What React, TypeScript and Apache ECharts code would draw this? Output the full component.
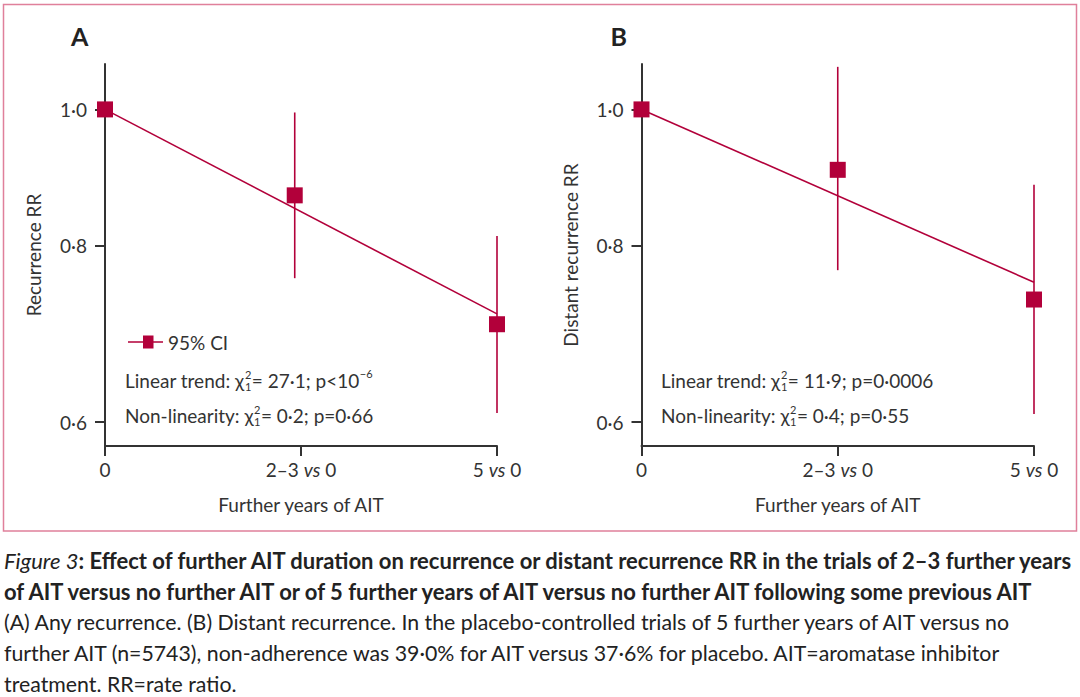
import React, { useEffect, useRef } from "react";
import * as echarts from "echarts";

const FONT = "Lato, 'Noto Sans', sans-serif";
const RED = "#b2003a";
const INK = "#333333";
const FRAME = "#e0809b";

// Axis ticks
const xTickValues = [0, 2.5, 5];
const xTickLabels = ["0", "2–3 vs 0", "5 vs 0"];
const yTickValues = [0.6, 0.8, 1.0];
const yMin = 0.577;
const yMax = 1.077;

// Panel A: any recurrence
const aX = [0, 2.42, 5];
const aRR = [1.0, 0.869, 0.704];
const aLo = [null, 0.759, 0.609];
const aHi = [null, 0.995, 0.813];
const aTrendX = [0, 5];
const aTrendRR = [1.0, 0.716];

// Panel B: distant recurrence
const bX = [0, 2.5, 5];
const bRR = [1.0, 0.906, 0.733];
const bLo = [null, 0.769, 0.608];
const bHi = [null, 1.072, 0.884];
const bTrendX = [0, 5];
const bTrendRR = [1.0, 0.754];

const captionLines = [
  "{i|Figure 3}{b|: Effect of further AIT duration on recurrence or distant recurrence RR in the trials of 2–3 further years}",
  "{b|of AIT versus no further AIT or of 5 further years of AIT versus no further AIT following some previous AIT}",
  "(A) Any recurrence. (B) Distant recurrence. In the placebo-controlled trials of 5 further years of AIT versus no",
  "further AIT (n=5743), non-adherence was 39·0% for AIT versus 37·6% for placebo. AIT=aromatase inhibitor",
  "treatment. RR=rate ratio.",
];

const FS = 19;

function measure(text: string, size: number, weight = "normal", style = "normal") {
  const ctx = document.createElement("canvas").getContext("2d")!;
  ctx.font = `${style} ${weight} ${size}px Lato`;
  return ctx.measureText(text).width;
}

function statLine(x: number, y: number, pre: string, post: string, tail?: string) {
  const small = 11;
  const w1 = measure(pre, FS);
  const ws = Math.max(measure("2", small), measure("1", small));
  const wp = measure(post, FS);
  const base = { fontFamily: "Lato", fontSize: FS, fill: INK, align: "left", verticalAlign: "middle" };
  const children: any[] = [
    { type: "text", x, y, style: { ...base, text: pre } },
    { type: "text", x: x + w1 + 0.5, y: y - 6, style: { ...base, fontSize: small, text: "2" } },
    { type: "text", x: x + w1 + 0.5, y: y + 6, style: { ...base, fontSize: small, text: "1" } },
    { type: "text", x: x + w1 + ws + 1, y, style: { ...base, text: post } },
  ];
  if (tail) {
    children.push({ type: "text", x: x + w1 + ws + 1 + wp + 0.5, y: y - 7, style: { ...base, fontSize: small, text: tail } });
  }
  return children;
}

function fmtX(v: number) {
  const i = xTickValues.findIndex((t) => Math.abs(t - v) < 1e-6);
  const s = i >= 0 ? xTickLabels[i] : "";
  return s.replace(" vs ", " {i|vs} ");
}

function xAxisOpt(gridIndex: number) {
  return {
    type: "value",
    gridIndex,
    min: 0,
    max: 5,
    name: "Further years of AIT",
    nameLocation: "middle",
    nameGap: 49,
    nameMoveOverlap: false,
    nameTextStyle: { fontFamily: FONT, fontSize: FS, color: INK },
    axisLine: { show: true, onZero: false, lineStyle: { color: INK, width: 2 } },
    axisTick: { show: true, customValues: xTickValues, length: 10, inside: false, lineStyle: { color: INK, width: 2 } },
    axisLabel: {
      customValues: xTickValues,
      margin: 14,
      fontFamily: FONT,
      fontSize: FS,
      color: INK,
      formatter: (v: number) => fmtX(v),
      rich: { i: { fontStyle: "italic", fontFamily: FONT, fontSize: FS, color: INK } },
    },
    splitLine: { show: false },
  };
}

function yAxisOpt(gridIndex: number, name: string) {
  const lv = yTickValues.map((v) => Math.log(v));
  return {
    type: "value",
    gridIndex,
    min: Math.log(yMin),
    max: Math.log(yMax),
    name,
    nameLocation: "middle",
    nameGap: 62,
    nameMoveOverlap: false,
    nameTextStyle: { fontFamily: FONT, fontSize: FS, color: INK },
    axisLine: { show: true, onZero: false, lineStyle: { color: INK, width: 2 } },
    axisTick: { show: true, customValues: lv, length: 10, inside: false, lineStyle: { color: INK, width: 2 } },
    axisLabel: {
      customValues: lv,
      margin: 18,
      fontFamily: FONT,
      fontSize: FS,
      color: INK,
      formatter: (v: number) => Math.exp(v).toFixed(1).replace(".", "·"),
    },
    splitLine: { show: false },
  };
}

function errRender(params: any, api: any) {
  const x = api.value(0);
  const p1 = api.coord([x, api.value(1)]);
  const p2 = api.coord([x, api.value(2)]);
  return {
    type: "line",
    shape: { x1: p1[0], y1: p1[1], x2: p2[0], y2: p2[1] },
    style: { stroke: RED, lineWidth: 1.6 },
  };
}

function panelSeries(idx: number, xs: number[], rr: number[], lo: (number | null)[], hi: (number | null)[], tx: number[], tr: number[], name: string) {
  const errData: number[][] = [];
  xs.forEach((x, i) => {
    const l = lo[i];
    const h = hi[i];
    if (l != null && h != null) errData.push([x, Math.log(l), Math.log(h)]);
  });
  return [
    {
      type: "line",
      xAxisIndex: idx,
      yAxisIndex: idx,
      data: tx.map((x, i) => [x, Math.log(tr[i])]),
      symbol: "none",
      showSymbol: false,
      silent: true,
      lineStyle: { color: RED, width: 1.6, opacity: 1 },
      z: 2,
    },
    {
      type: "custom",
      xAxisIndex: idx,
      yAxisIndex: idx,
      renderItem: errRender,
      data: errData,
      encode: { x: 0, y: [1, 2] },
      silent: true,
      z: 3,
    },
    {
      type: "scatter",
      name,
      xAxisIndex: idx,
      yAxisIndex: idx,
      symbol: "rect",
      symbolSize: 16,
      data: xs.map((x, i) => [x, Math.log(rr[i])]),
      itemStyle: { color: RED, opacity: 1 },
      silent: true,
      z: 4,
    },
  ];
}

export default function App() {
  const ref = useRef<HTMLDivElement>(null);
  useEffect(() => {
    document.body.style.margin = "0";
    document.body.style.overflow = "hidden";
    const chart = echarts.init(ref.current!, undefined, { renderer: "svg" });
    const graphics: any[] = [
      { type: "rect", shape: { x: 3.5, y: 4.5, width: 1073, height: 526.5 }, style: { fill: "none", stroke: FRAME, lineWidth: 1.5 } },
      { type: "text", x: 71, y: 36, style: { text: "A", fontFamily: "Lato", fontWeight: "bold", fontSize: 25, fill: "#222", align: "left", verticalAlign: "middle" } },
      { type: "text", x: 610.5, y: 36, style: { text: "B", fontFamily: "Lato", fontWeight: "bold", fontSize: 25, fill: "#222", align: "left", verticalAlign: "middle" } },
      ...statLine(125, 380, "Linear trend: χ", "= 27·1; p<10", "−6"),
      ...statLine(125, 415, "Non-linearity: χ", "= 0·2; p=0·66"),
      ...statLine(661, 380, "Linear trend: χ", "= 11·9; p=0·0006"),
      ...statLine(661, 415, "Non-linearity: χ", "= 0·4; p=0·55"),
    ];
    const capY = [560, 591, 622, 653, 684];
    const capBold = 22;
    const capReg = 21.3;
    captionLines.forEach((t, i) => {
      graphics.push({
        type: "text",
        x: 4,
        y: capY[i],
        style: {
          text: t,
          fontFamily: "Lato",
          fontSize: capReg,
          fill: "#222",
          align: "left",
          verticalAlign: "middle",
          rich: {
            i: { fontFamily: "Lato", fontSize: capBold, fontStyle: "italic", fill: "#222" },
            b: { fontFamily: "Lato", fontSize: capBold, fontWeight: "bold", fill: "#222" },
          },
        },
      });
    });
    chart.setOption({
      animation: false,
      grid: [
        { left: 105, top: 64, width: 392, height: 382, outerBoundsMode: "none" },
        { left: 641.5, top: 64, width: 392.5, height: 382, outerBoundsMode: "none" },
      ],
      xAxis: [xAxisOpt(0), xAxisOpt(1)],
      yAxis: [yAxisOpt(0, "Recurrence RR"), yAxisOpt(1, "Distant recurrence RR")],
      legend: {
        data: [{ name: "95% CI", icon: "path://M0,5.75H15V0H25.5V5.75H35V7.25H25.5V13H15V7.25H0Z" }],
        left: 128,
        top: 332.5,
        padding: 0,
        itemWidth: 35,
        itemHeight: 13,
        selectedMode: false,
        itemStyle: { opacity: 1 },
        textStyle: { fontFamily: FONT, fontSize: FS, color: INK },
      },
      series: [
        ...panelSeries(0, aX, aRR, aLo, aHi, aTrendX, aTrendRR, "95% CI"),
        ...panelSeries(1, bX, bRR, bLo, bHi, bTrendX, bTrendRR, "B estimate"),
      ],
      graphic: graphics,
    });
    return () => chart.dispose();
  }, []);
  return <div ref={ref} style={{ width: 1080, height: 697 }} />;
}
